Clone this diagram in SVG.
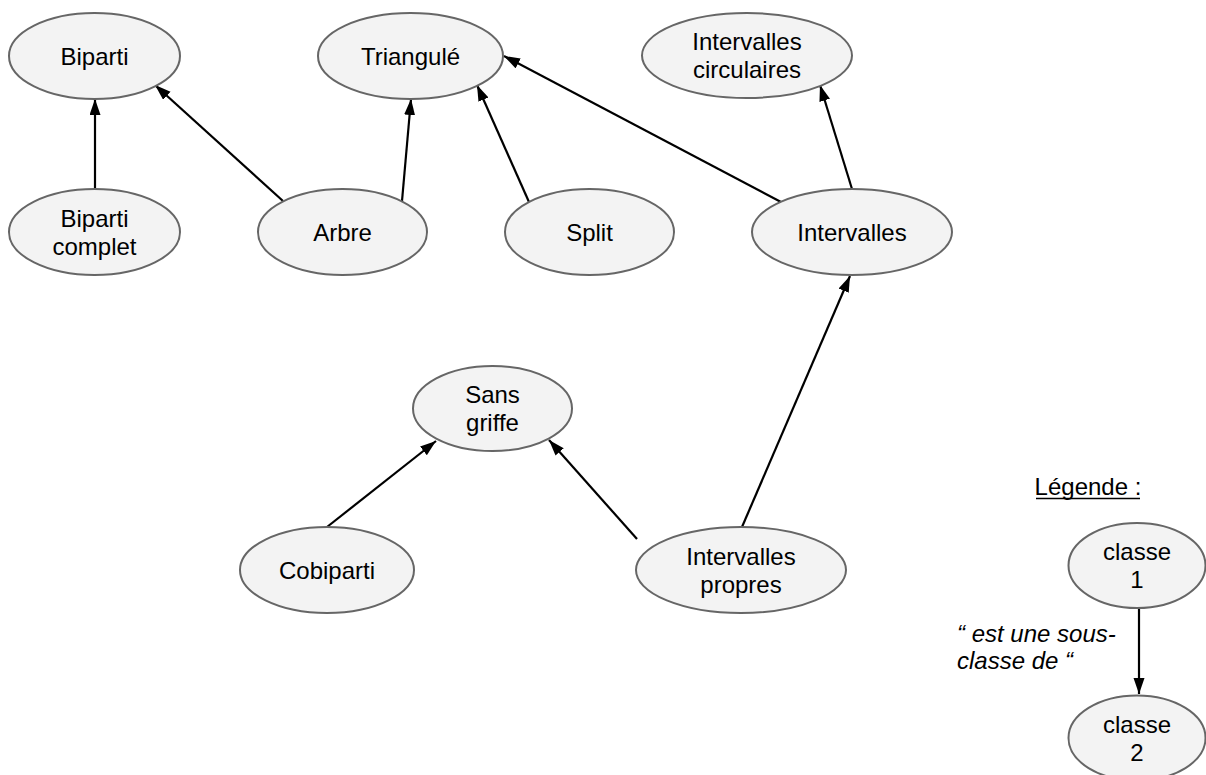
<svg xmlns="http://www.w3.org/2000/svg" width="1206" height="775" viewBox="0 0 1206 775">
<style>
.node ellipse{fill:#f3f3f3;stroke:#666666;stroke-width:2}
.node text,.lbl{font-family:"Liberation Sans",Arial,sans-serif;font-size:24px;fill:#000;text-anchor:middle}
.edge line{stroke:#000;stroke-width:2.2;marker-end:url(#arr)}
.it{font-family:"Liberation Sans",Arial,sans-serif;font-size:24px;font-style:italic;fill:#000}
</style>
<defs>
<marker id="arr" markerUnits="userSpaceOnUse" markerWidth="17" markerHeight="12" refX="16" refY="5.5" orient="auto">
<path d="M0,0 L16,5.5 L0,11 z" fill="#000"/>
</marker>
</defs>
<rect width="1206" height="775" fill="#fff"/>
<g id="edges" class="edge">
<line x1="95" y1="189" x2="95" y2="99"/>
<line x1="283" y1="201" x2="155" y2="85"/>
<line x1="402" y1="201" x2="411" y2="99"/>
<line x1="529" y1="202" x2="477" y2="85"/>
<line x1="781" y1="202" x2="504" y2="56"/>
<line x1="852" y1="189" x2="820" y2="85"/>
<line x1="742" y1="527" x2="850" y2="276"/>
<line x1="327" y1="527" x2="436" y2="441"/>
<line x1="637" y1="539" x2="549" y2="440"/>
<line x1="1139" y1="608" x2="1139" y2="694"/>
</g>
<g id="biparti" class="node"><ellipse cx="94.5" cy="56" rx="85.5" ry="43"/><text x="94.5" y="64.5">Biparti</text></g>
<g id="triangule" class="node"><ellipse cx="410.5" cy="56" rx="92.5" ry="43"/><text x="410.5" y="64.5">Triangulé</text></g>
<g id="intervalles-circulaires" class="node"><ellipse cx="747" cy="55.5" rx="105" ry="42.5"/><text x="747" y="50">Intervalles</text><text x="747" y="78">circulaires</text></g>
<g id="biparti-complet" class="node"><ellipse cx="94.5" cy="232" rx="85.5" ry="43"/><text x="94.5" y="226.5">Biparti</text><text x="94.5" y="254.5">complet</text></g>
<g id="arbre" class="node"><ellipse cx="342.5" cy="232" rx="84.5" ry="43"/><text x="342.5" y="240.5">Arbre</text></g>
<g id="split" class="node"><ellipse cx="589.5" cy="232" rx="84.5" ry="43"/><text x="589.5" y="240.5">Split</text></g>
<g id="intervalles" class="node"><ellipse cx="852" cy="232" rx="100" ry="43"/><text x="852" y="240.5">Intervalles</text></g>
<g id="sans-griffe" class="node"><ellipse cx="492.5" cy="408.5" rx="79.5" ry="42.5"/><text x="492.5" y="403">Sans</text><text x="492.5" y="431">griffe</text></g>
<g id="cobiparti" class="node"><ellipse cx="327" cy="570" rx="87" ry="43"/><text x="327" y="578.5">Cobiparti</text></g>
<g id="intervalles-propres" class="node"><ellipse cx="741" cy="570" rx="105" ry="43"/><text x="741" y="564.5">Intervalles</text><text x="741" y="592.5">propres</text></g>
<g id="legende">
<text class="lbl" x="1088" y="495">Légende :</text>
<line x1="1036" y1="498.5" x2="1140" y2="498.5" stroke="#000" stroke-width="1.5"/>
</g>
<g id="classe1" class="node"><ellipse cx="1137" cy="565.5" rx="68.5" ry="42.5"/><text x="1137" y="560">classe</text><text x="1137" y="588">1</text></g>
<g id="classe2" class="node"><ellipse cx="1137" cy="738" rx="68.5" ry="42.5"/><text x="1137" y="732.5">classe</text><text x="1137" y="760.5">2</text></g>
<g id="legend-label">
<text class="it" x="957" y="642">“ est une sous-</text>
<text class="it" x="957" y="669">classe de “</text>
</g>
</svg>
